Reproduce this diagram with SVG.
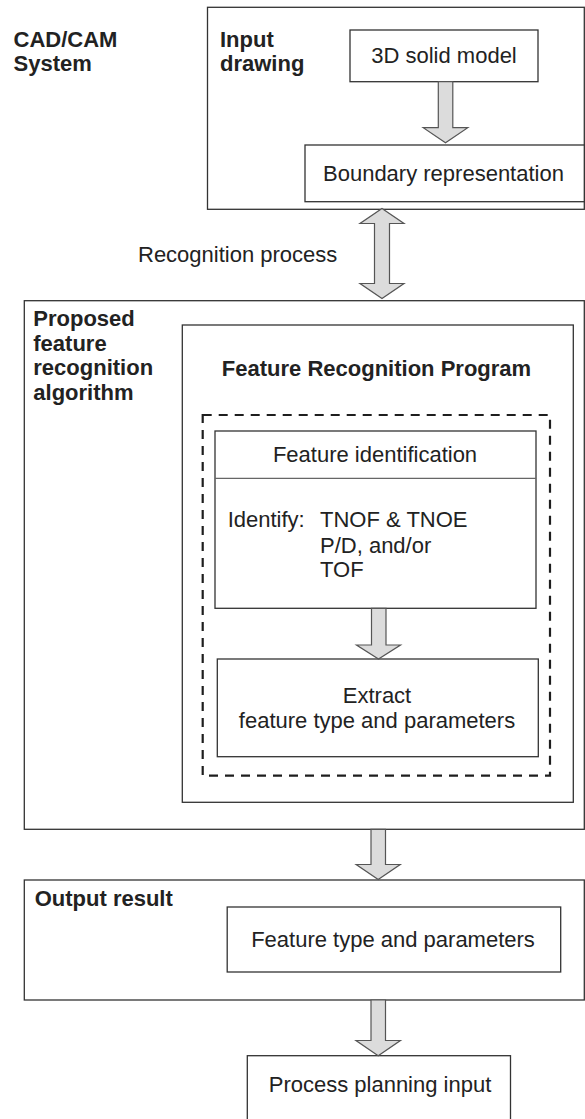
<svg xmlns="http://www.w3.org/2000/svg" width="585" height="1119" viewBox="0 0 585 1119">
  <style>
    .box { fill: #ffffff; stroke: #333333; stroke-width: 1.3; }
    .divider { stroke: #666666; stroke-width: 1.2; }
    .dash { fill: none; stroke: #1e1e1e; stroke-width: 2.2; stroke-dasharray: 9 7; }
    .arrow { fill: #dcdcdc; stroke: #555555; stroke-width: 1.2; stroke-linejoin: miter; }
    .t { font-family: "Liberation Sans", Arial, Helvetica, sans-serif; font-size: 22px; fill: #222222; }
    .b { font-family: "Liberation Sans", Arial, Helvetica, sans-serif; font-size: 22px; font-weight: bold; fill: #222222; }
    .c { text-anchor: middle; }
  </style>

  <rect width="585" height="1119" fill="#ffffff"/>

  <!-- CAD/CAM system label -->
  <g id="cadcam-label">
    <text class="b" x="13.5" y="46.5">CAD/CAM</text>
    <text class="b" x="13.5" y="70.5">System</text>
  </g>

  <!-- Input drawing container -->
  <g id="input-drawing">
    <rect class="box" x="207.5" y="7.3" width="376.8" height="202"/>
    <text class="b" x="220" y="46.5">Input</text>
    <text class="b" x="220" y="70.5">drawing</text>
  </g>

  <g id="solid-model">
    <rect class="box" x="350" y="30" width="188" height="51.7"/>
    <text class="t c" x="444" y="63">3D solid model</text>
  </g>

  <g id="boundary-rep">
    <rect class="box" x="305" y="145" width="279.3" height="56.7"/>
    <text class="t" x="323" y="181">Boundary representation</text>
  </g>

  <!-- Recognition process label -->
  <g id="recognition-label">
    <text class="t" x="138" y="261.5">Recognition process</text>
  </g>

  <!-- Proposed feature recognition algorithm container -->
  <g id="proposed-algorithm">
    <rect class="box" x="24.3" y="300.7" width="560" height="528.6"/>
    <text class="b" x="33.3" y="326">Proposed</text>
    <text class="b" x="33.3" y="350.7">feature</text>
    <text class="b" x="33.3" y="375.4">recognition</text>
    <text class="b" x="33.3" y="400">algorithm</text>
  </g>

  <g id="feature-recognition-program">
    <rect class="box" x="182.3" y="325" width="391" height="477.3"/>
    <text class="b c" x="376.5" y="376">Feature Recognition Program</text>
    <rect class="dash" x="202.7" y="415" width="347.3" height="360.7"/>
  </g>

  <g id="feature-identification">
    <rect class="box" x="215" y="431" width="321" height="177.3"/>
    <line class="divider" x1="215" y1="478.3" x2="536" y2="478.3"/>
    <text class="t c" x="375" y="461.5">Feature identification</text>
    <text class="t" x="227.7" y="526.7">Identify:</text>
    <text class="t" x="320" y="526.7">TNOF &amp; TNOE</text>
    <text class="t" x="320" y="552.7">P/D, and/or</text>
    <text class="t" x="320" y="577.3">TOF</text>
  </g>

  <g id="extract-parameters">
    <rect class="box" x="217.3" y="659" width="321" height="97.7"/>
    <text class="t c" x="377" y="703">Extract</text>
    <text class="t c" x="377" y="728">feature type and parameters</text>
  </g>

  <!-- Output result container -->
  <g id="output-result">
    <rect class="box" x="24.3" y="880" width="560" height="120"/>
    <text class="b" x="34.7" y="906">Output result</text>
  </g>

  <g id="feature-type-output">
    <rect class="box" x="227.2" y="907" width="333.5" height="65"/>
    <text class="t c" x="393" y="947">Feature type and parameters</text>
  </g>

  <g id="process-planning">
    <rect class="box" x="247.3" y="1055.7" width="263.2" height="80"/>
    <text class="t c" x="380" y="1092">Process planning input</text>
  </g>

  <!-- Block arrows between stages -->
  <g id="connectors">
    <!-- solid model to boundary representation -->
    <path class="arrow" d="M438.3,81.7 H452.8 V127.7 H467.8 L445.5,142.7 L423.2,127.7 H438.3 Z"/>
    <!-- two-way recognition process arrow -->
    <path class="arrow" d="M382,208.5 L404,223.5 H389.5 V283.5 H404 L382,298.5 L360,283.5 H374.5 V223.5 H360 Z"/>
    <!-- identification to extraction -->
    <path class="arrow" d="M371.5,608.3 H386 V645 H400.5 L378.5,659 L356.5,645 H371.5 Z"/>
    <!-- algorithm to output result -->
    <path class="arrow" d="M371,829.3 H385.5 V864.5 H400.2 L378.2,879.5 L356.2,864.5 H371 Z"/>
    <!-- output result to process planning -->
    <path class="arrow" d="M371,1000 H385.5 V1040.5 H400.4 L378.2,1055.7 L356,1040.5 H371 Z"/>
  </g>
</svg>
